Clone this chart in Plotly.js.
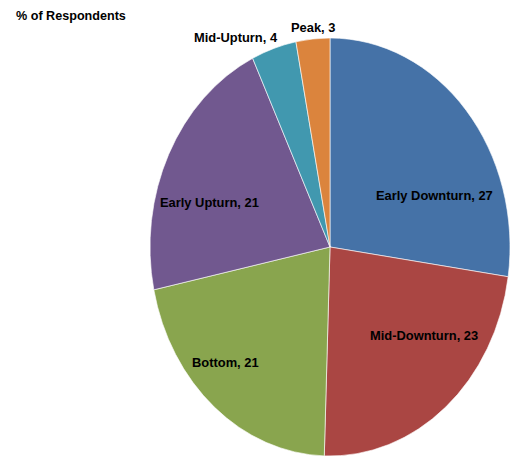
<!DOCTYPE html>
<html>
<head>
<meta charset="utf-8">
<script src="https://cdn.plot.ly/plotly-3.0.1.min.js"></script>
<style>html,body{margin:0;padding:0;background:#fff;}#chart{width:510px;height:457px;}</style>
</head>
<body>
<div id="chart"></div>
<script>
// Data
var labels = ["Early Downturn", "Mid-Downturn", "Bottom", "Early Upturn", "Mid-Upturn", "Peak"];
var values = [27, 23, 21, 21, 4, 3];
var colors = ["#4572A7", "#AA4643", "#89A54E", "#71588F", "#4198AF", "#DB843D"];

// Label placement (pixel centres in the 510x457 canvas)
var labelPos = [[434, 195], [424, 335], [225, 362], [209, 202], [236, 37], [313, 28]];

var W = 510, H = 457;
var fontFam = "Liberation Sans, Arial, sans-serif";

var annotations = labels.map(function (l, i) {
  return {
    text: "<b>" + l + ", " + values[i] + "</b>",
    xref: "paper", yref: "paper",
    x: labelPos[i][0] / W, y: 1 - labelPos[i][1] / H,
    xanchor: "center", yanchor: "middle",
    showarrow: false,
    font: {family: fontFam, size: 12.9, color: "#000"}
  };
});
annotations.push({
  text: "<b>% of Respondents</b>",
  xref: "paper", yref: "paper",
  x: 14 / W, y: 1 - 16 / H,
  xanchor: "left", yanchor: "middle",
  showarrow: false,
  font: {family: fontFam, size: 12.6, color: "#000"}
});

var trace = {
  type: "pie",
  labels: labels,
  values: values,
  sort: false,
  direction: "clockwise",
  rotation: 0,
  textinfo: "none",
  hoverinfo: "none",
  marker: {colors: colors, line: {color: "rgba(255,255,255,0.7)", width: 0.8}},
  domain: {x: [150 / W, 1], y: [(H - 427) / H, (H - 67) / H]}
};

var layout = {
  width: W, height: H,
  margin: {l: 0, r: 0, t: 0, b: 0},
  showlegend: false,
  paper_bgcolor: "#fff",
  annotations: annotations
};

Plotly.newPlot("chart", [trace], layout, {staticPlot: true}).then(function (gd) {
  // Stretch the pie vertically into the ellipse seen in the reference
  var k = 209 / 180;
  var paths = gd.querySelectorAll(".pielayer path.surface");
  var minY = Infinity, maxY = -Infinity;
  paths.forEach(function (p) {
    var b = p.getBBox();
    minY = Math.min(minY, b.y); maxY = Math.max(maxY, b.y + b.height);
  });
  var cy = (minY + maxY) / 2;
  paths.forEach(function (p) {
    p.setAttribute("transform", "translate(0," + cy + ") scale(1," + k + ") translate(0," + (-cy) + ")");
  });
});
</script>
</body>
</html>
